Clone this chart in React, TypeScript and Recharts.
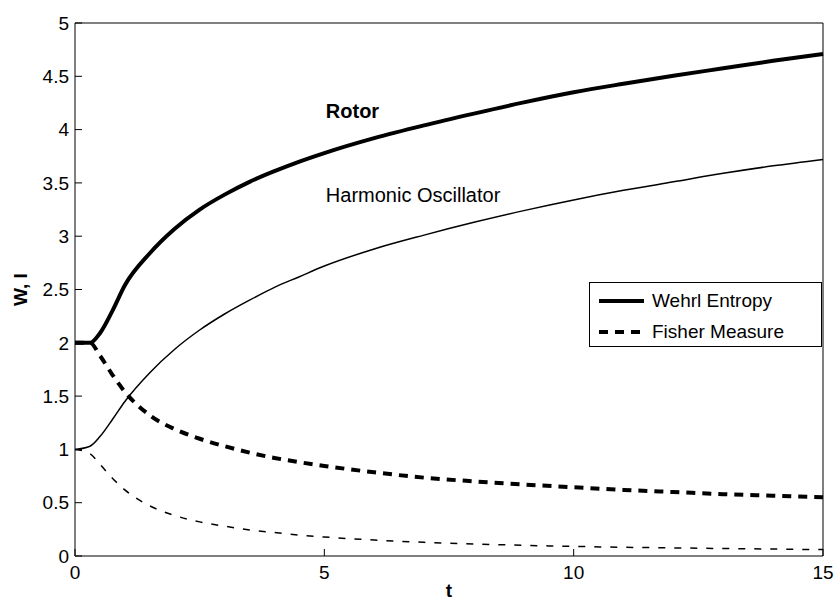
import React from "react";
import {
  LineChart,
  Line,
  XAxis,
  YAxis,
  Legend,
  Label,
  ReferenceDot,
} from "recharts";

// time axis samples (t)
const T = [0, 0.3, 0.5, 0.75, 1, 1.5, 2, 2.5, 3, 3.5, 4, 4.5, 5, 6, 7, 8, 9, 10, 11, 12, 13, 14, 15];

// Wehrl entropy (solid) and Fisher measure (dashed), rotor (thick) vs harmonic oscillator (thin)
const rotorWehrl = [2.0, 2.0, 2.09, 2.3, 2.54, 2.84, 3.07, 3.25, 3.39, 3.51, 3.61, 3.7, 3.78, 3.92, 4.04, 4.15, 4.255, 4.35, 4.43, 4.505, 4.575, 4.645, 4.71];
const hoWehrl = [1.0, 1.03, 1.12, 1.28, 1.45, 1.72, 1.94, 2.12, 2.27, 2.4, 2.52, 2.62, 2.72, 2.88, 3.01, 3.13, 3.24, 3.34, 3.43, 3.51, 3.59, 3.66, 3.72];
const rotorFisher = [2.0, 2.0, 1.88, 1.7, 1.54, 1.32, 1.19, 1.1, 1.03, 0.97, 0.92, 0.88, 0.845, 0.785, 0.735, 0.7, 0.67, 0.645, 0.62, 0.6, 0.58, 0.565, 0.55];
const hoFisher = [1.0, 0.96, 0.86, 0.73, 0.62, 0.47, 0.38, 0.32, 0.28, 0.245, 0.22, 0.195, 0.178, 0.15, 0.128, 0.113, 0.1, 0.09, 0.082, 0.076, 0.07, 0.065, 0.06];

const X_TICKS = [0, 5, 10, 15];
const Y_TICKS = [0, 0.5, 1, 1.5, 2, 2.5, 3, 3.5, 4, 4.5, 5];

const FONT = '"Liberation Sans", Arial, Helvetica, sans-serif';
const INK = "#000";

const data = T.map((t, i) => ({
  t,
  rw: rotorWehrl[i],
  hw: hoWehrl[i],
  rf: rotorFisher[i],
  hf: hoFisher[i],
}));

const tickStyle = { fontSize: 19, fill: INK, fontFamily: FONT };

function LegendBox() {
  const rows = [
    { name: "Wehrl Entropy", dash: undefined as string | undefined },
    { name: "Fisher Measure", dash: "9 7" },
  ];
  return (
    <div
      style={{
        border: "1px solid #000",
        background: "#fff",
        width: 231,
        height: 61,
        boxSizing: "content-box",
        fontFamily: FONT,
        fontSize: 19,
        color: INK,
        paddingTop: 2,
      }}
    >
      {rows.map((r) => (
        <div
          key={r.name}
          style={{ display: "flex", alignItems: "center", height: 31 }}
        >
          <svg width={62} height={10} style={{ display: "block" }}>
            <line
              x1={9}
              x2={54}
              y1={5}
              y2={5}
              stroke={INK}
              strokeWidth={4}
              strokeDasharray={r.dash}
            />
          </svg>
          <span>{r.name}</span>
        </div>
      ))}
    </div>
  );
}

export default function App() {
  return (
    <div
      style={{
        position: "fixed",
        left: 0,
        top: 0,
        width: 835,
        height: 601,
        background: "#fff",
      }}
    >
      <LineChart
        width={835}
        height={601}
        data={data}
        margin={{ top: 22, right: 11, left: 0, bottom: 0 }}
        style={{ fontFamily: FONT }}
      >
        <XAxis
          xAxisId="b"
          dataKey="t"
          type="number"
          domain={[0, 15]}
          ticks={X_TICKS}
          interval={0}
          height={45}
          stroke={INK}
          tickSize={-7}
          tickMargin={17}
          tick={tickStyle}
        >
          <Label
            value="t"
            position="insideBottom"
            offset={4}
            style={{ fontSize: 19, fontWeight: "bold", fill: INK, fontFamily: FONT }}
          />
        </XAxis>
        <XAxis
          xAxisId="top"
          dataKey="t"
          type="number"
          orientation="top"
          domain={[0, 15]}
          ticks={X_TICKS}
          interval={0}
          height={1}
          stroke={INK}
          tickSize={-7}
          tick={false}
        />
        <YAxis
          yAxisId="l"
          type="number"
          domain={[0, 5]}
          ticks={Y_TICKS}
          interval={0}
          width={75}
          stroke={INK}
          tickSize={-7}
          tickMargin={13}
          tick={tickStyle}
        >
          <Label
            content={(props: any) => {
              const vb = props.viewBox || {};
              const cx = vb.x + 20;
              const cy = vb.y + vb.height / 2;
              return (
                <text
                  x={cx}
                  y={cy}
                  dy="0.355em"
                  textAnchor="middle"
                  transform={`rotate(-90 ${cx} ${cy})`}
                  style={{ fontSize: 19, fontWeight: "bold", fill: INK, fontFamily: FONT }}
                >
                  W, I
                </text>
              );
            }}
          />
        </YAxis>
        <YAxis
          yAxisId="r"
          orientation="right"
          type="number"
          domain={[0, 5]}
          ticks={Y_TICKS}
          interval={0}
          width={1}
          stroke={INK}
          tickSize={-7}
          tick={false}
        />

        <Line
          xAxisId="b"
          yAxisId="l"
          type="monotone"
          dataKey="hw"
          stroke={INK}
          strokeWidth={1.5}
          dot={false}
          isAnimationActive={false}
          legendType="none"
        />
        <Line
          xAxisId="b"
          yAxisId="l"
          type="monotone"
          dataKey="hf"
          stroke={INK}
          strokeWidth={1.5}
          strokeDasharray="7 9"
          dot={false}
          isAnimationActive={false}
          legendType="none"
        />
        <Line
          xAxisId="b"
          yAxisId="l"
          type="monotone"
          dataKey="rw"
          stroke={INK}
          strokeWidth={4}
          dot={false}
          isAnimationActive={false}
        />
        <Line
          xAxisId="b"
          yAxisId="l"
          type="monotone"
          dataKey="rf"
          stroke={INK}
          strokeWidth={4}
          strokeDasharray="9 7"
          dot={false}
          isAnimationActive={false}
        />

        <ReferenceDot
          xAxisId="b"
          yAxisId="l"
          x={5.03}
          y={4.18}
          r={0}
          stroke="none"
          fill="none"
          label={{
            value: "Rotor",
            position: "right",
            offset: 0,
            fontSize: 20,
            fontWeight: "bold",
            fill: INK,
            fontFamily: FONT,
          }}
        />
        <ReferenceDot
          xAxisId="b"
          yAxisId="l"
          x={5.03}
          y={3.39}
          r={0}
          stroke="none"
          fill="none"
          label={{
            value: "Harmonic Oscillator",
            position: "right",
            offset: 0,
            fontSize: 20,
            fill: INK,
            fontFamily: FONT,
          }}
        />

        <Legend
          layout="vertical"
          align="center"
          verticalAlign="middle"
          content={() => <LegendBox />}
          wrapperStyle={{ left: 589, top: 282, width: 233 }}
        />
      </LineChart>
    </div>
  );
}
